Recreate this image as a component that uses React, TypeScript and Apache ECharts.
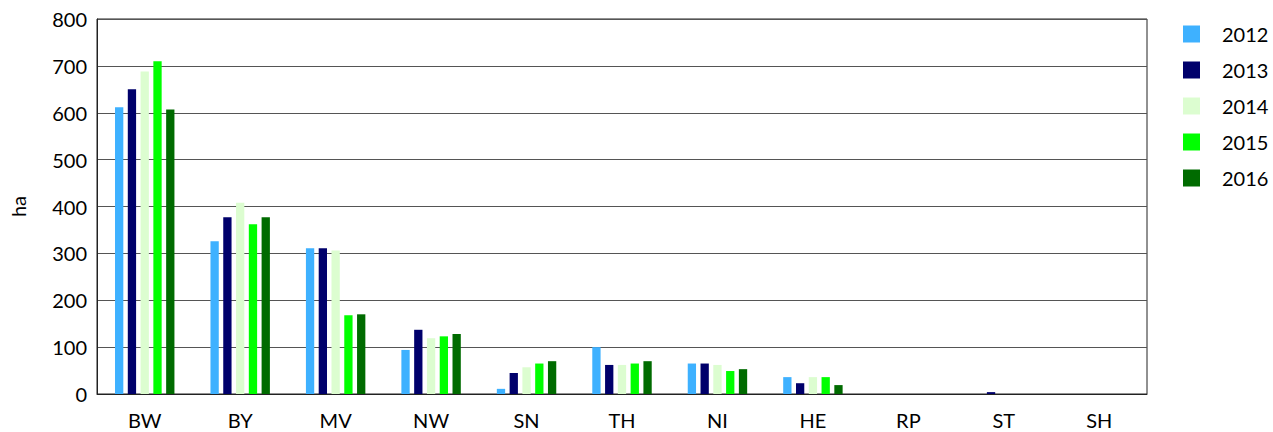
import React, { useEffect, useRef } from "react";
import * as echarts from "echarts";

const categories = ["BW", "BY", "MV", "NW", "SN", "TH", "NI", "HE", "RP", "ST", "SH"];
const years = ["2012", "2013", "2014", "2015", "2016"];
const v2012 = [612, 326, 311, 94, 11, 100, 65, 36, 0, 0, 0];
const v2013 = [650, 377, 311, 137, 45, 62, 65, 23, 0, 4, 0];
const v2014 = [688, 408, 306, 119, 57, 62, 62, 36, 0, 0, 0];
const v2015 = [710, 362, 168, 123, 65, 65, 49, 36, 0, 0, 0];
const v2016 = [607, 377, 170, 128, 70, 70, 53, 19, 0, 0, 0];
const colors = ["#3EB1FF", "#00006B", "#DCFDD0", "#00FF00", "#006B00"];
const yTicks = { min: 0, max: 800, interval: 100 };

export default function App() {
  const ref = useRef<HTMLDivElement>(null);
  useEffect(() => {
    if (!ref.current) return;
    const chart = echarts.init(ref.current, null, { renderer: "svg" });
    const values = [v2012, v2013, v2014, v2015, v2016];
    const font = "Lato, 'Open Sans', sans-serif";
    chart.setOption({
      animation: false,
      textStyle: { fontFamily: font },
      legend: {
        orient: "vertical",
        left: 1183,
        top: 24,
        padding: 0,
        itemWidth: 17,
        itemHeight: 17,
        itemGap: 16,
        icon: "rect",
        data: years,
        textStyle: { fontSize: 20, lineHeight: 17, color: "#000", fontFamily: font, padding: [0, 0, 0, 17] },
      },
      grid: {
        left: 97,
        right: 126,
        top: 19,
        bottom: 38,
        show: true,
        borderColor: "#222",
        borderWidth: 1,
      },
      xAxis: {
        type: "category",
        data: categories,
        axisTick: { show: false },
        axisLine: { lineStyle: { color: "#222", width: 1 } },
        axisLabel: { fontSize: 20, lineHeight: 20, color: "#000", margin: 16, fontFamily: font },
      },
      yAxis: {
        type: "value",
        min: yTicks.min,
        max: yTicks.max,
        interval: yTicks.interval,
        name: "ha",
        nameLocation: "middle",
        nameRotate: 90,
        nameGap: 69,
        nameTextStyle: { fontSize: 20, color: "#000", fontFamily: font },
        axisLine: { show: true, lineStyle: { color: "#222", width: 1 } },
        axisTick: { show: false },
        axisLabel: { fontSize: 20, color: "#000", margin: 10, fontFamily: font, padding: [6, 0, 0, 0] },
        splitLine: { lineStyle: { color: "#555", width: 1.2 } },
      },
      series: years.map((y, i) => ({
        name: y,
        type: "bar",
        data: values[i],
        barWidth: 8.3,
        barGap: "54%",
        itemStyle: { color: colors[i] },
      })),
    });
    return () => chart.dispose();
  }, []);
  return <div ref={ref} style={{ width: 1273, height: 432, position: "absolute", left: 0, top: 0 }} />;
}
